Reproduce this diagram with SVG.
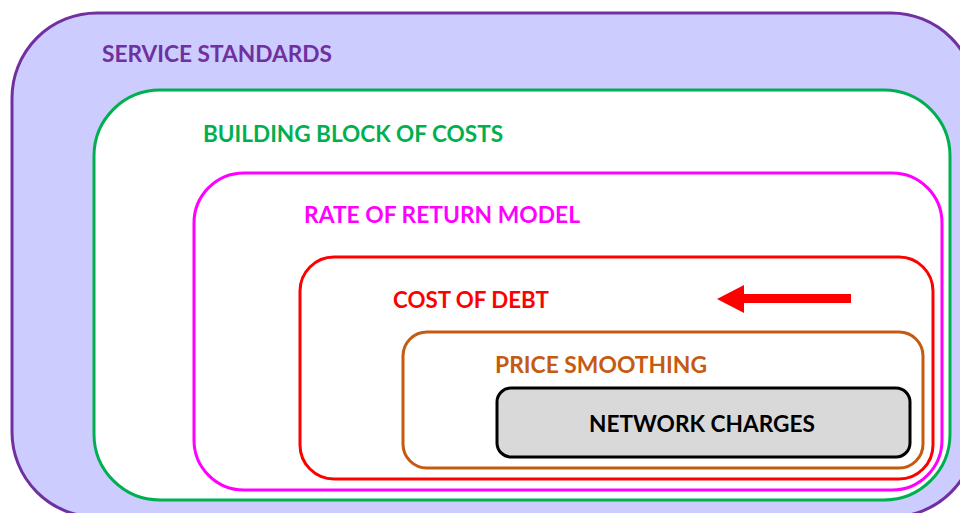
<svg xmlns="http://www.w3.org/2000/svg" width="960" height="513" viewBox="0 0 960 513">
  <style>
    .frame { fill: none; stroke-width: 3; }
    .label { font-family: Lato, "Open Sans", "Liberation Sans", sans-serif; font-weight: bold; font-size: 23px; }
  </style>
  <rect width="960" height="513" fill="#ffffff"/>

  <!-- nested layers, outermost first -->
  <g id="service-standards">
    <rect x="12" y="13" width="964" height="504" rx="85" ry="85" fill="#CCCCFF" stroke="#7030A0" stroke-width="3"/>
    <text class="label" x="102" y="62" fill="#7030A0" textLength="230" lengthAdjust="spacingAndGlyphs">SERVICE STANDARDS</text>
  </g>

  <g id="building-block">
    <rect x="94" y="90" width="856" height="410" rx="66" ry="66" fill="#ffffff" stroke="#00B050" stroke-width="3"/>
    <text class="label" x="203" y="142" fill="#00B050" textLength="300" lengthAdjust="spacingAndGlyphs">BUILDING BLOCK OF COSTS</text>
  </g>

  <g id="rate-of-return">
    <rect class="frame" x="194" y="173" width="748" height="317" rx="50" ry="50" stroke="#FF00FF"/>
    <text class="label" x="304" y="223" fill="#FF00FF" textLength="276" lengthAdjust="spacingAndGlyphs">RATE OF RETURN MODEL</text>
  </g>

  <g id="cost-of-debt">
    <rect class="frame" x="300" y="257" width="633" height="222" rx="34" ry="34" stroke="#FF0000"/>
    <text class="label" x="393" y="308" fill="#FF0000" textLength="156" lengthAdjust="spacingAndGlyphs">COST OF DEBT</text>
  </g>

  <g id="price-smoothing">
    <rect class="frame" x="403" y="332" width="520" height="136" rx="24" ry="24" stroke="#C55A11"/>
    <text class="label" x="495" y="373" fill="#C55A11" textLength="212" lengthAdjust="spacingAndGlyphs">PRICE SMOOTHING</text>
  </g>

  <g id="network-charges">
    <rect x="497" y="388" width="413" height="69" rx="14" ry="14" fill="#D9D9D9" stroke="#000000" stroke-width="3"/>
    <text class="label" x="589" y="432" fill="#000000" textLength="226" lengthAdjust="spacingAndGlyphs">NETWORK CHARGES</text>
  </g>

  <!-- direction arrow -->
  <g id="connectors">
    <polygon points="851,294 744,294 744,285 717,299 744,313 744,303 851,303" fill="#FF0000"/>
  </g>
</svg>
